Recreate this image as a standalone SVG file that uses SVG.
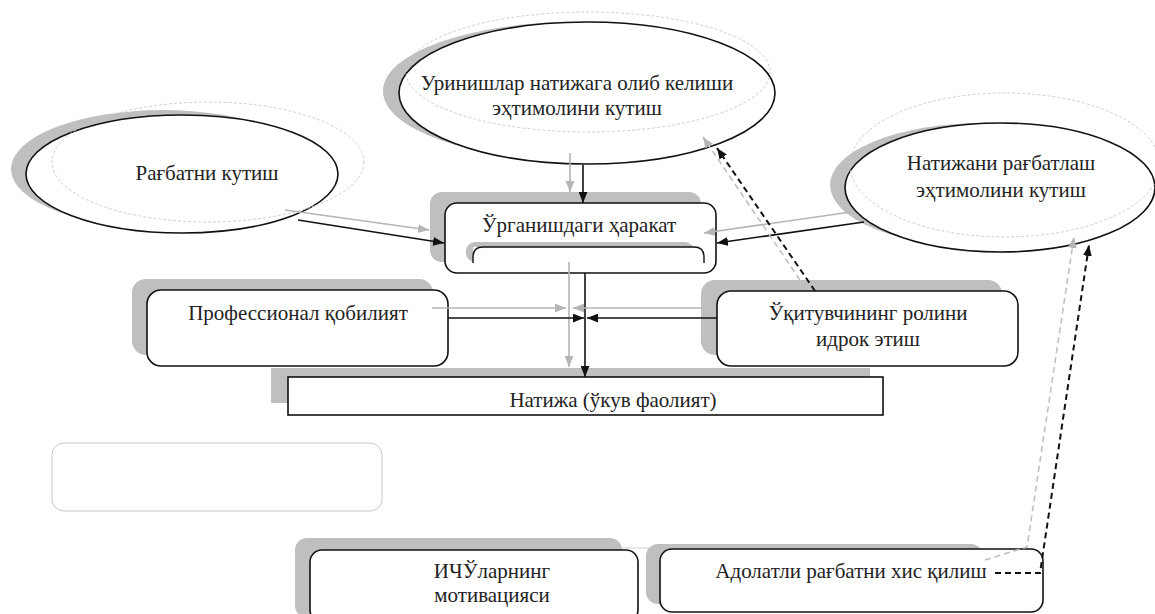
<svg xmlns="http://www.w3.org/2000/svg" width="1155" height="614" viewBox="0 0 1155 614">
<defs>
<style>
.sh{fill:#bfbfbf;stroke:none}
.main{fill:#fff;stroke:#111;stroke-width:1.6}
.thin{fill:none;stroke:#c8c8c8;stroke-width:0.9;stroke-dasharray:3 2}
.t{font-family:"Liberation Serif","Times New Roman",serif;font-size:21px;fill:#222;text-anchor:middle}
.cb{fill:none;stroke:#111;stroke-width:1.6}
.cg{fill:none;stroke:#b5b5b5;stroke-width:1.6}
.db{fill:none;stroke:#111;stroke-width:2;stroke-dasharray:6 4}
.dg{fill:none;stroke:#c0c0c0;stroke-width:1.6;stroke-dasharray:6 4}
</style>
<marker id="ab" viewBox="0 0 10 8" refX="10" refY="4" markerWidth="11" markerHeight="9" markerUnits="userSpaceOnUse" orient="auto"><path d="M0,0L10,4L0,8z" fill="#111"/></marker>
<marker id="ag" viewBox="0 0 10 8" refX="10" refY="4" markerWidth="11" markerHeight="9" markerUnits="userSpaceOnUse" orient="auto"><path d="M0,0L10,4L0,8z" fill="#b5b5b5"/></marker>
</defs>
<rect width="1155" height="614" fill="#fff"/>

<g id="node-urinishlar">
<ellipse class="sh" cx="576" cy="91" rx="193" ry="69"/>
<ellipse class="main" cx="587" cy="93" rx="188" ry="71"/>
<ellipse class="thin" cx="588" cy="72" rx="182" ry="60"/>
<text class="t" x="577" y="90">Уринишлар натижага олиб келиши</text>
<text class="t" x="577" y="115">эҳтимолини кутиш</text>
</g>

<g id="node-ragbat">
<ellipse class="sh" cx="163" cy="169" rx="152" ry="59"/>
<ellipse class="main" cx="182" cy="174" rx="156" ry="59"/>
<ellipse class="thin" cx="208" cy="162" rx="156" ry="60"/>
<text class="t" x="207" y="180">Рағбатни кутиш</text>
</g>

<g id="node-natijani">
<ellipse class="sh" cx="982" cy="185" rx="152" ry="62"/>
<ellipse class="main" cx="1000" cy="187.5" rx="155" ry="64.5"/>
<ellipse class="thin" cx="1005" cy="165" rx="155" ry="72"/>
<text class="t" x="1001" y="170">Натижани рағбатлаш</text>
<text class="t" x="1001" y="197">эҳтимолини кутиш</text>
</g>

<g id="node-urganish">
<rect class="sh" x="430" y="192" width="271" height="70" rx="12"/>
<rect class="main" x="445" y="203" width="271" height="70" rx="12"/>
<rect class="sh" x="466" y="242" width="228" height="20" rx="9"/>
<rect x="473" y="247" width="231" height="16" fill="#fff"/>
<path d="M473,263 L473,257 Q473,247 483,247 L694,247 Q704,247 704,257 L704,263" fill="none" stroke="#111" stroke-width="1.4"/>
<text class="t" x="579" y="232">Ўрганишдаги ҳаракат</text>
</g>

<g id="node-professional">
<rect class="sh" x="132" y="279" width="301" height="76" rx="14"/>
<rect class="main" x="147" y="290" width="301" height="76" rx="14"/>
<text class="t" x="298" y="320">Профессионал қобилият</text>
</g>

<g id="node-uqituvchi">
<rect class="sh" x="701" y="280" width="301" height="75" rx="14"/>
<rect class="main" x="717" y="291" width="301" height="75" rx="14"/>
<text class="t" x="868" y="320">Ўқитувчининг ролини</text>
<text class="t" x="868" y="346">идрок этиш</text>
</g>

<g id="node-natija">
<rect class="sh" x="271" y="368" width="599" height="35"/>
<rect class="main" x="288" y="377" width="595" height="38"/>
<text class="t" x="613" y="407">Натижа (ўкув фаолият)</text>
</g>

<g id="node-empty">
<rect x="52" y="443" width="330" height="68" rx="12" fill="#fff" stroke="#c8c8c8" stroke-width="1"/>
</g>

<g id="node-ichu">
<rect class="sh" x="295" y="538" width="327" height="80" rx="12"/>
<rect class="main" x="310" y="550" width="328" height="72" rx="12"/>
<text class="t" x="492" y="578">ИЧЎларнинг</text>
<text class="t" x="492" y="602">мотивацияси</text>
</g>

<g id="node-adolatli">
<line x1="622" y1="548" x2="660" y2="548" stroke="#cfcfcf" stroke-width="1"/>
<rect class="sh" x="646" y="544" width="337" height="60" rx="12"/>
<rect class="main" x="660" y="549" width="383" height="63" rx="12"/>
<text class="t" x="851" y="578">Адолатли рағбатни хис қилиш</text>
</g>

<g id="connectors">
<path class="cg" d="M570,153 L570,192" marker-end="url(#ag)"/>
<path class="cb" d="M583,165 L583,203" marker-end="url(#ab)"/>
<path class="cg" d="M285,210 L429,230" marker-end="url(#ag)"/>
<path class="cb" d="M298,220 L444,243" marker-end="url(#ab)"/>
<path class="cg" d="M851,212 L704,233" marker-end="url(#ag)"/>
<path class="cb" d="M864,222 L717,243" marker-end="url(#ab)"/>
<path class="cg" d="M569,262 L569,367" marker-end="url(#ag)"/>
<path class="cb" d="M585,273 L585,377" marker-end="url(#ab)"/>
<path class="cg" d="M432,308 L566,308" marker-end="url(#ag)"/>
<path class="cb" d="M448,318 L584,318" marker-end="url(#ab)"/>
<path class="cg" d="M702,308 L573,308" marker-end="url(#ag)"/>
<path class="cb" d="M717,318 L587,318" marker-end="url(#ab)"/>
<path class="dg" d="M800,280 L703,137" marker-end="url(#ag)"/>
<path class="db" d="M815,291 L717,148" marker-end="url(#ab)"/>
<path class="dg" d="M985,560 L1027,547 L1074,237" marker-end="url(#ag)"/>
<path class="db" d="M995,573 L1040,573 L1089,245" marker-end="url(#ab)"/>
</g>
</svg>
